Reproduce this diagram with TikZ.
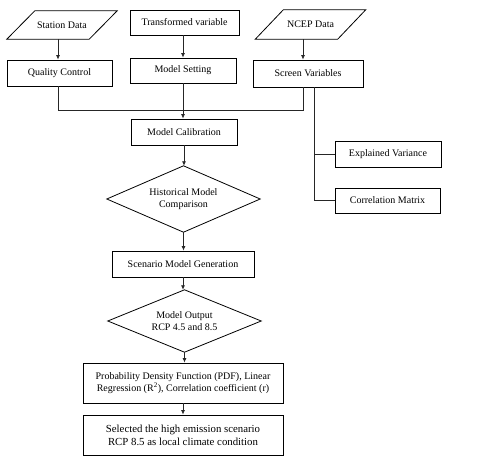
\documentclass[tikz,border=0pt]{standalone}
\usepackage{fontspec}
\setmainfont{Liberation Serif}
\usetikzlibrary{arrows.meta,calc}
\begin{document}
\begin{tikzpicture}[x=1pt,y=-1pt,
  every node/.style={font=\fontsize{10}{12}\selectfont, inner sep=0pt, align=center},
  box/.style={draw, line width=0.8pt, minimum width=#1},
  ghost/.style={minimum width=#1},
  conn/.style={line width=0.8pt, draw=black!85},
  arr/.style={conn, -{Latex[length=4.5pt,width=4pt]}},
  shp/.style={line width=0.8pt}]
\useasboundingbox (0,0) rectangle (480,461);
% input parallelograms and box
\node[ghost=82, minimum height=28] (sd) at (62,25) {Station Data};
\draw[shp] ([xshift=14pt]sd.north west) -- ([xshift=14pt]sd.north east) -- ([xshift=-14pt]sd.south east) -- ([xshift=-14pt]sd.south west) -- cycle;
\node[box=109, minimum height=25] (tv) at (184.5,22.5) {Transformed variable};
\node[ghost=82, minimum height=29] (nc) at (310.5,24.5) {NCEP Data};
\draw[shp] ([xshift=14pt]nc.north west) -- ([xshift=14pt]nc.north east) -- ([xshift=-14pt]nc.south east) -- ([xshift=-14pt]nc.south west) -- cycle;
% second row
\node[box=105, minimum height=26] (qc) at (59.5,73) {Quality Control};
\node[box=106, minimum height=25] (ms) at (183,70.5) {Model Setting};
\node[box=110, minimum height=27] (sv) at (308,73.5) {Screen Variables};
% main column
\node[box=106, minimum height=26] (mc) at (184,132) {Model Calibration};
\node[box=106, minimum height=26] (ev) at (388,154) {Explained Variance};
\node[box=105, minimum height=25] (cm) at (387.5,200.5) {Correlation Matrix};
\node[ghost=153, minimum height=66] (hm) at (183.5,199) {Historical Model\\Comparison};
\draw[shp] (hm.north) -- (hm.east) -- (hm.south) -- (hm.west) -- cycle;
\node[box=142, minimum height=26] (sg) at (183,264) {Scenario Model Generation};
\node[ghost=153, minimum height=62] (mo) at (184.5,321) {Model Output\\RCP 4.5 and 8.5};
\draw[shp] (mo.north) -- (mo.east) -- (mo.south) -- (mo.west) -- cycle;
\node[box=200, minimum height=40] (pdf) at (183,383) {Probability Density Function (PDF), Linear\\Regression (R\textsuperscript{2}), Correlation coefficient (r)};
\node[box=200, minimum height=40, font=\fontsize{10.8}{13}\selectfont] (sel) at (183,435) {Selected the high emission scenario\\RCP 8.5 as local climate condition};
% connectors
\draw[arr] (sd.south -| 58,0) -- (qc.north -| 58,0);
\draw[arr] (tv.south -| ms.north) -- (ms.north);
\draw[arr] (nc.south -| 303,0) -- (sv.north -| 303,0);
\coordinate (jl) at (58,110);
\coordinate (jr) at (303,110);
\draw[conn] (qc.south -| jl) -- (jl) -- (jr) -- (sv.south -| jr);
\draw[arr] (ms.south) -- (mc.north -| ms.south);
\coordinate (br) at (314,87);
\draw[conn] (sv.south -| br) |- (cm.west);
\draw[conn] (br |- ev.west) -- (ev.west);
\draw[arr] (mc.south) -- (hm.north -| mc.south);
\draw[arr] (hm.south) -- (sg.north -| hm.south);
\draw[arr] (sg.south) -- (mo.north -| sg.south);
\draw[arr] (mo.south) -- (pdf.north -| mo.south);
\draw[arr] (pdf.south) -- (sel.north);
\end{tikzpicture}
\end{document}
